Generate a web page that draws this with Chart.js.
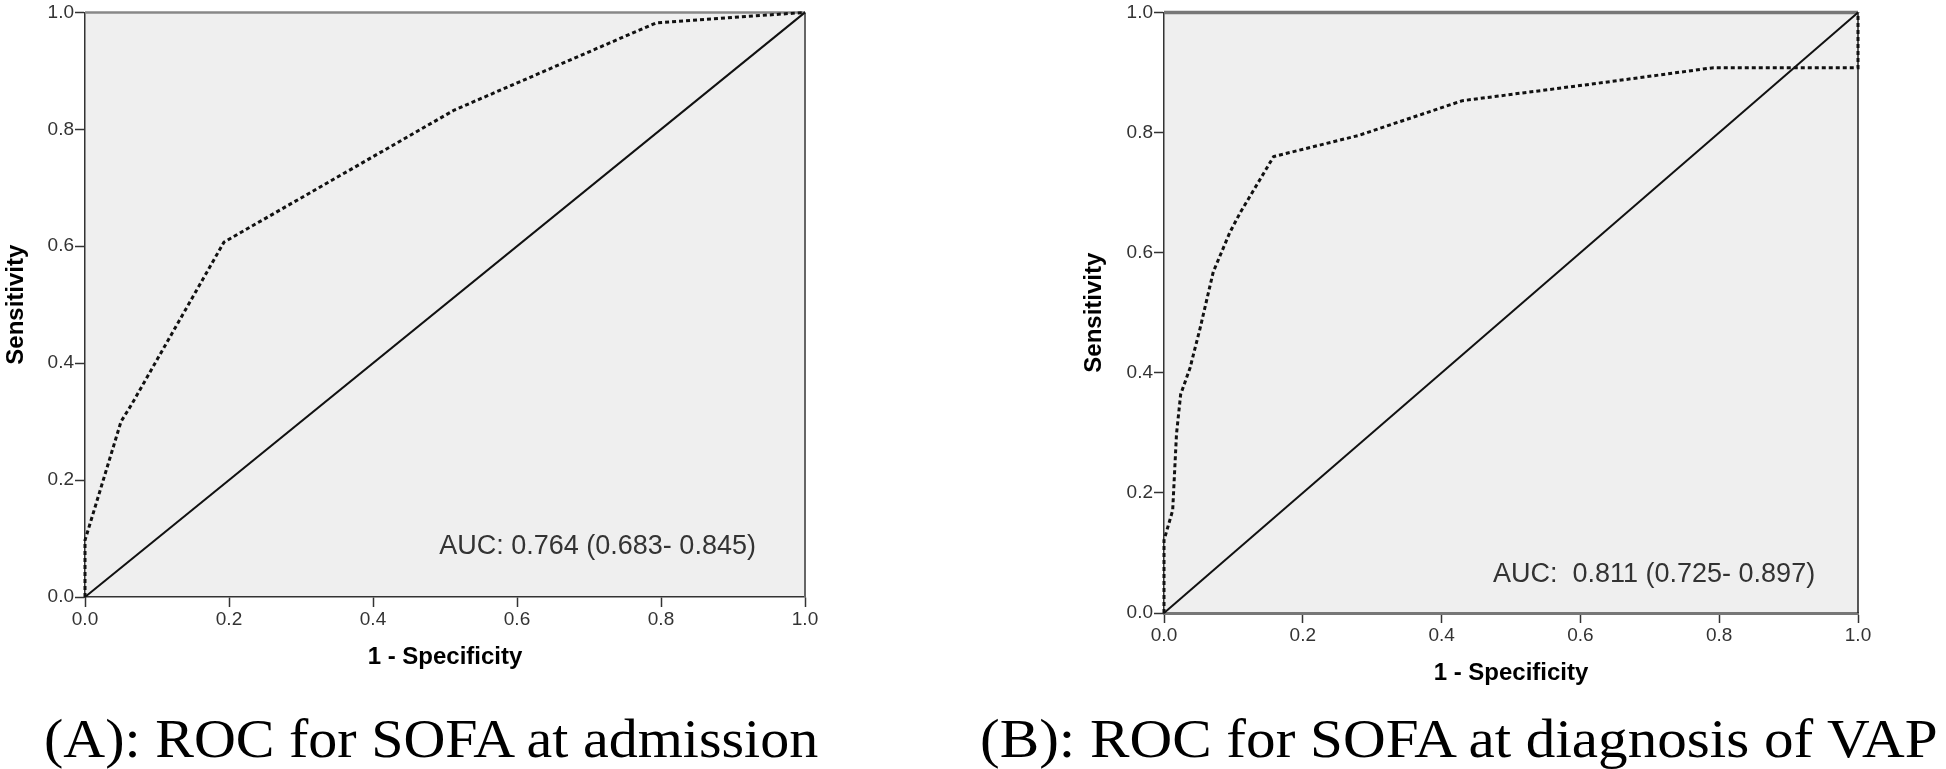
<!DOCTYPE html>
<html lang="en">
<head>
<meta charset="UTF-8">
<title>ROC curves for SOFA</title>
<script src="https://cdn.jsdelivr.net/npm/chart.js"></script>
<style>
  body { margin: 0; width: 1946px; height: 769px; background: #fff; position: relative; overflow: hidden; }
  .panel { position: absolute; top: 0; width: 973px; height: 700px; }
  .caption {
    position: absolute; top: 711px;
    font-family: "Liberation Serif", "Times New Roman", serif;
    font-size: 55px; line-height: 1; white-space: nowrap; color: #000;
    transform-origin: left top; transform: scaleX(1.055);
  }
</style>
</head>
<body>
<div class="panel" style="left:0"><canvas id="rocA"></canvas></div>
<div class="panel" style="left:973px"><canvas id="rocB"></canvas></div>
<div class="caption" style="left:44px">(A): ROC for SOFA at admission</div>
<div class="caption" style="left:980px; transform: scaleX(1.075)">(B): ROC for SOFA at diagnosis of VAP</div>

<script>
// shared axis ticks and reference diagonal
const tickValues = [0, 0.2, 0.4, 0.6, 0.8, 1.0];
const refX = [0, 1];
const refY = [0, 1];

// (A) SOFA at admission
const fprA = [0, 0, 0.05, 0.065, 0.193, 0.513, 0.793, 1];
const tprA = [0, 0.097, 0.30, 0.33, 0.607, 0.833, 0.982, 1];
const aucA = "AUC: 0.764 (0.683- 0.845)";

// (B) SOFA at diagnosis of VAP
const fprB = [0, 0, 0.0125, 0.018, 0.024, 0.0375, 0.052, 0.071, 0.095, 0.11, 0.158, 0.28, 0.43, 0.625, 0.792, 1, 1];
const tprB = [0, 0.121, 0.171, 0.298, 0.364, 0.408, 0.474, 0.568, 0.634, 0.667, 0.760, 0.795, 0.853, 0.882, 0.908, 0.908, 1];
const aucB = "AUC:  0.811 (0.725- 0.897)";

const sans = '"Liberation Sans", Arial, sans-serif';

function pairs(xs, ys) {
    return xs.map((x, i) => ({ x: x, y: ys[i] }));
}

// grey plot background, top/right frame and the AUC note
const framePlugin = {
    id: "frame",
    beforeDraw(chart, args, opts) {
        const a = chart.chartArea, ctx = chart.ctx;
        ctx.save();
        ctx.fillStyle = "#efefef";
        ctx.fillRect(a.left, a.top, a.right - a.left, a.bottom - a.top);
        ctx.restore();
    },
    beforeDatasetsDraw(chart, args, opts) {
        const a = chart.chartArea, ctx = chart.ctx;
        ctx.save();
        ctx.strokeStyle = opts.topColor;
        ctx.lineWidth = opts.topWidth;
        ctx.beginPath(); ctx.moveTo(a.left, a.top); ctx.lineTo(a.right, a.top); ctx.stroke();
        ctx.strokeStyle = opts.rightColor;
        ctx.lineWidth = opts.rightWidth;
        ctx.beginPath(); ctx.moveTo(a.right, a.top); ctx.lineTo(a.right, a.bottom); ctx.stroke();
        ctx.restore();
    },
    afterDraw(chart, args, opts) {
        const ctx = chart.ctx;
        const x = chart.scales.x.getPixelForValue(opts.labelAt[0]);
        const y = chart.scales.y.getPixelForValue(opts.labelAt[1]);
        ctx.save();
        ctx.font = "27px " + sans;
        ctx.fillStyle = "#333";
        ctx.textBaseline = "middle";
        ctx.fillText(opts.label, x, y);
        ctx.restore();
    }
};

function makeScales(cfg) {
    const tickFont = { family: sans, size: 19 };
    const titleFont = { family: sans, size: 24, weight: "bold" };
    const setTicks = s => { s.ticks = tickValues.map(v => ({ value: v })); };
    return {
        x: {
            type: "linear", min: 0, max: 1,
            afterBuildTicks: setTicks,
            afterFit: s => { s.height = cfg.xHeight; },
            ticks: { callback: v => v.toFixed(1), font: tickFont, color: "#333", padding: 1, autoSkip: false, maxRotation: 0 },
            grid: { drawOnChartArea: false, tickLength: 10, tickColor: "#333", tickWidth: 1.5 },
            border: { color: cfg.xBorder, width: cfg.xBorderWidth },
            title: { display: true, text: "1 - Specificity", font: titleFont, color: "#000" }
        },
        y: {
            type: "linear", min: 0, max: 1,
            afterBuildTicks: setTicks,
            afterFit: s => { s.width = cfg.yWidth; },
            ticks: { callback: v => v.toFixed(1), font: tickFont, color: "#333", padding: 1, autoSkip: false },
            grid: { drawOnChartArea: false, tickLength: 10, tickColor: "#333", tickWidth: 1.5 },
            border: { color: "#333", width: 1.5 },
            title: { display: true, text: "Sensitivity", font: titleFont, color: "#000", padding: { top: 2, bottom: 4 } }
        }
    };
}

function drawRoc(id, fpr, tpr, cfg) {
    new Chart(document.getElementById(id), {
        type: "scatter",
        data: {
            datasets: [
                {
                    label: "Reference",
                    data: pairs(refX, refY),
                    showLine: true,
                    borderColor: "#111",
                    borderWidth: 2,
                    pointRadius: 0,
                    clip: false
                },
                {
                    label: "ROC",
                    data: pairs(fpr, tpr),
                    showLine: true,
                    borderColor: "#111",
                    borderWidth: 3,
                    borderDash: [4, 3],
                    borderCapStyle: "butt",
                    pointRadius: 0,
                    clip: false
                }
            ]
        },
        options: {
            responsive: true,
            maintainAspectRatio: false,
            animation: false,
            layout: { padding: cfg.padding },
            plugins: {
                legend: { display: false },
                tooltip: { enabled: false },
                frame: cfg.frame
            },
            scales: makeScales(cfg)
        },
        plugins: [framePlugin]
    });
}

drawRoc("rocA", fprA, tprA, {
    padding: { left: 0, top: 9, right: 168, bottom: 24 },
    xHeight: 79, yWidth: 85,
    xBorder: "#333", xBorderWidth: 1.5,
    frame: { topColor: "#888", topWidth: 2.5, rightColor: "#666", rightWidth: 2, label: aucA, labelAt: [0.492, 0.087] }
});

drawRoc("rocB", fprB, tprB, {
    padding: { left: 105, top: 8, right: 88, bottom: 8 },
    xHeight: 79, yWidth: 86,
    xBorder: "#777", xBorderWidth: 3,
    frame: { topColor: "#777", topWidth: 3.5, rightColor: "#222", rightWidth: 1.5, label: aucB, labelAt: [0.474, 0.064] }
});
</script>
</body>
</html>
